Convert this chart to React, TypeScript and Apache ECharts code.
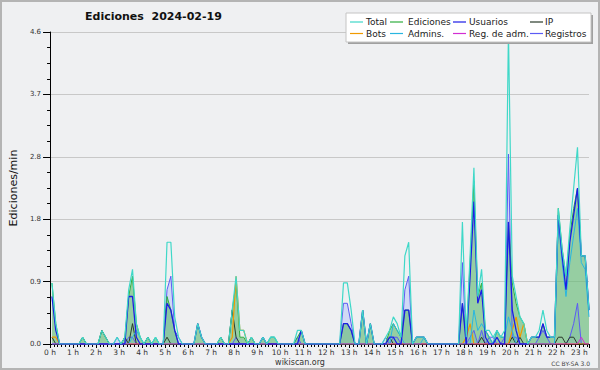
import React, { useEffect, useRef } from "react";
import * as echarts from "echarts";

// 10-minute bins, each point drawn at the middle of its bin (minutes since 00:00)
const START_MIN = 5;
const STEP_MIN = 10;
const HOUR_LABEL = (h: number) => `${h} h`;
const Y_TICKS_MAX = 4.6;
const Y_TICK_STEP = 0.92;

const TOTAL = [
  0.9, 0.3, 0, 0, 0, 0, 0, 0, 0.1, 0, 0, 0,
  0, 0.2, 0.1, 0, 0, 0.1, 0, 0.1, 0.8, 1.1, 0.3, 0.1,
  0, 0.1, 0, 0.1, 0, 0, 1.5, 1.5, 0.4, 0.1, 0, 0,
  0, 0, 0.3, 0.1, 0, 0, 0, 0, 0.1, 0, 0, 0.5,
  1.0, 0.2, 0.2, 0, 0.1, 0, 0, 0.1, 0, 0.1, 0.1, 0,
  0, 0, 0, 0, 0.2, 0.2, 0, 0, 0, 0, 0, 0,
  0, 0, 0, 0, 0.9, 0.9, 0.5, 0, 0, 0.5, 0, 0.3,
  0, 0, 0, 0.1, 0.2, 0.4, 0.3, 0.1, 1.3, 1.5, 0, 0.1,
  0.1, 0.1, 0, 0, 0, 0, 0, 0, 0, 0, 0, 1.8,
  0.1, 1.3, 2.6, 0.7, 1.1, 0.2, 0.2, 0.1, 0.2, 0.1, 0.2, 4.6,
  1.0, 0.7, 0.4, 0.3, 0, 0.1, 0.1, 0.2, 0.5, 0.2, 0.1, 0.1,
  2.0, 1.4, 1.0, 1.7, 2.3, 2.9, 1.3, 1.3, 0.5,
];

const EDICIONES = [
  0.9, 0.3, 0, 0, 0, 0, 0, 0, 0.1, 0, 0, 0,
  0, 0.2, 0.1, 0, 0, 0, 0, 0.1, 0.7, 1.0, 0.3, 0.1,
  0, 0.1, 0, 0.1, 0, 0, 0.7, 0.5, 0.2, 0, 0, 0,
  0, 0, 0.3, 0.1, 0, 0, 0, 0, 0.1, 0, 0, 0.5,
  0.9, 0.1, 0.1, 0, 0.1, 0, 0, 0.1, 0, 0.1, 0.1, 0,
  0, 0, 0, 0, 0.1, 0.2, 0, 0, 0, 0, 0, 0,
  0, 0, 0, 0, 0.3, 0.3, 0.2, 0, 0, 0.5, 0, 0.3,
  0, 0, 0, 0, 0.2, 0.3, 0.2, 0.1, 0.5, 0.5, 0, 0.1,
  0.1, 0.1, 0, 0, 0, 0, 0, 0, 0, 0, 0, 0.6,
  0.1, 1.2, 2.4, 0.7, 0.9, 0.2, 0.1, 0, 0.2, 0.1, 0.1, 1.8,
  0.9, 0.6, 0.4, 0.3, 0, 0.1, 0.1, 0.1, 0.3, 0.1, 0.1, 0.1,
  2.0, 1.4, 1.0, 1.6, 2.0, 2.3, 1.3, 1.3, 0.5,
];

const USUARIOS = [
  0.7, 0.2, 0, 0, 0, 0, 0, 0, 0, 0, 0, 0,
  0, 0, 0, 0, 0, 0, 0, 0, 0.7, 0.7, 0.1, 0,
  0, 0, 0, 0, 0, 0, 0.6, 0.5, 0.2, 0, 0, 0,
  0, 0, 0.3, 0.1, 0, 0, 0, 0, 0, 0, 0, 0,
  0, 0, 0, 0, 0, 0, 0, 0.1, 0, 0, 0, 0,
  0, 0, 0, 0, 0, 0.2, 0, 0, 0, 0, 0, 0,
  0, 0, 0, 0, 0.3, 0.3, 0.2, 0, 0, 0.5, 0, 0.3,
  0, 0, 0, 0, 0.1, 0.1, 0, 0, 0.5, 0.5, 0, 0.1,
  0.1, 0.1, 0, 0, 0, 0, 0, 0, 0, 0, 0, 0.6,
  0, 1.0, 2.1, 0.6, 0.8, 0.1, 0, 0, 0.1, 0, 0, 1.8,
  0.5, 0.2, 0, 0, 0, 0.1, 0.1, 0.1, 0.3, 0.1, 0.1, 0.1,
  1.9, 1.3, 0.8, 1.5, 1.9, 2.3, 1.3, 1.3, 0.5,
];

const IP = [
  0.1, 0, 0, 0, 0, 0, 0, 0, 0.1, 0, 0, 0,
  0, 0.2, 0.1, 0, 0, 0, 0, 0.1, 0, 0.3, 0, 0,
  0, 0.1, 0, 0, 0, 0, 0.1, 0, 0, 0, 0, 0,
  0, 0, 0, 0, 0, 0, 0, 0, 0.1, 0, 0, 0.5,
  0.1, 0, 0, 0, 0.1, 0, 0, 0, 0, 0, 0, 0,
  0, 0, 0, 0, 0, 0, 0, 0, 0, 0, 0, 0,
  0, 0, 0, 0, 0, 0, 0, 0, 0, 0, 0, 0,
  0, 0, 0, 0, 0.1, 0, 0, 0, 0, 0, 0, 0,
  0, 0, 0, 0, 0, 0, 0, 0, 0, 0, 0, 0,
  0, 0, 0, 0, 0.1, 0, 0, 0, 0, 0, 0, 0,
  0.1, 0, 0.1, 0, 0, 0, 0, 0, 0, 0, 0, 0,
  0.1, 0.1, 0, 0.1, 0.1, 0, 0, 0, 0,
];

const BOTS = [
  0.1, 0.1, 0, 0, 0, 0, 0, 0, 0, 0, 0, 0,
  0, 0, 0, 0, 0, 0, 0, 0, 0, 0, 0, 0,
  0, 0, 0, 0, 0, 0, 0, 0, 0, 0, 0, 0,
  0, 0, 0, 0, 0, 0, 0, 0, 0, 0, 0, 0.1,
  1.0, 0.2, 0.2, 0, 0, 0, 0, 0, 0, 0, 0, 0,
  0, 0, 0, 0, 0, 0, 0, 0, 0, 0, 0, 0,
  0, 0, 0, 0, 0, 0, 0, 0, 0, 0, 0, 0,
  0, 0, 0, 0, 0, 0, 0, 0, 0, 0, 0, 0,
  0, 0, 0, 0, 0, 0, 0, 0, 0, 0, 0, 0,
  0.1, 0.3, 0, 0, 0, 0, 0, 0, 0, 0, 0, 0,
  0.2, 0.4, 0.1, 0.3, 0, 0, 0, 0, 0, 0, 0, 0,
  0, 0, 0, 0, 0, 0, 0, 0, 0,
];

const ADMINS = [
  0, 0, 0, 0, 0, 0, 0, 0, 0, 0, 0, 0,
  0, 0, 0, 0, 0, 0, 0, 0, 0, 0.1, 0.2, 0.1,
  0, 0, 0, 0.1, 0, 0, 0, 0, 0, 0, 0, 0,
  0, 0, 0, 0, 0, 0, 0, 0, 0, 0, 0, 0,
  0, 0, 0, 0, 0, 0, 0, 0, 0, 0.1, 0.1, 0,
  0, 0, 0, 0, 0, 0, 0, 0, 0, 0, 0, 0,
  0, 0, 0, 0, 0, 0, 0, 0, 0, 0, 0, 0,
  0, 0, 0, 0, 0, 0.3, 0.2, 0.1, 0, 0, 0, 0,
  0, 0.1, 0, 0, 0, 0, 0, 0, 0, 0, 0, 0,
  0, 0, 0.5, 0.2, 0.3, 0.2, 0.1, 0, 0.2, 0.1, 0.1, 0.4,
  0.2, 0, 0, 0, 0, 0, 0, 0, 0, 0, 0, 0,
  1.8, 1.2, 0.7, 1.2, 1.6, 2.0, 1.2, 1.1, 0.4,
];

const REG_ADM = [
  0, 0, 0, 0, 0, 0, 0, 0, 0, 0, 0, 0,
  0, 0, 0, 0, 0, 0, 0, 0, 0, 0, 0, 0,
  0, 0, 0, 0, 0, 0, 0, 0, 0, 0, 0, 0,
  0, 0, 0, 0, 0, 0, 0, 0, 0, 0, 0, 0,
  0, 0, 0, 0, 0, 0, 0, 0, 0, 0, 0, 0,
  0, 0, 0, 0, 0, 0, 0, 0, 0, 0, 0, 0,
  0, 0, 0, 0, 0, 0, 0, 0, 0, 0, 0, 0,
  0, 0, 0, 0, 0, 0, 0, 0, 0, 0, 0, 0,
  0, 0, 0, 0, 0, 0, 0, 0, 0, 0, 0, 0,
  0, 0, 0, 0, 0, 0, 0, 0, 0, 0, 0, 0,
  0, 0, 0, 0, 0, 0, 0, 0, 0, 0, 0, 0,
  0, 0, 0, 0, 0, 0, 0.1, 0, 0,
];

const REGISTROS = [
  0, 0, 0, 0, 0, 0, 0, 0, 0, 0, 0, 0,
  0, 0, 0, 0, 0, 0.1, 0, 0, 0.1, 0.1, 0, 0,
  0, 0, 0, 0, 0, 0, 0.8, 1.0, 0.2, 0.1, 0, 0,
  0, 0, 0, 0, 0, 0, 0, 0, 0, 0, 0, 0,
  0.1, 0, 0, 0, 0, 0, 0, 0, 0, 0, 0, 0,
  0, 0, 0, 0, 0.1, 0, 0, 0, 0, 0, 0, 0,
  0, 0, 0, 0, 0.6, 0.6, 0.3, 0, 0, 0, 0, 0,
  0, 0, 0, 0.1, 0, 0.1, 0.1, 0, 0.8, 1.0, 0, 0,
  0, 0, 0, 0, 0, 0, 0, 0, 0, 0, 0, 1.2,
  0, 0.1, 0.2, 0, 0.2, 0, 0.1, 0.1, 0, 0, 0.1, 2.8,
  0.1, 0.1, 0, 0, 0, 0, 0, 0.1, 0.2, 0.1, 0, 0,
  0, 0, 0, 0.1, 0.3, 0.6, 0, 0, 0,
];

const LEGEND_ROWS = [
  ["Total", "Ediciones", "Usuarios", "IP"],
  ["Bots", "Admins.", "Reg. de adm.", "Registros"],
];

const COLORS: Record<string, string> = {
  Total: "#3fd8c8",
  Ediciones: "#2fae3f",
  Usuarios: "#1c1ce6",
  IP: "#2b3b2b",
  Bots: "#f09a00",
  "Admins.": "#29b6e0",
  "Reg. de adm.": "#d22ed2",
  Registros: "#5b5bf5",
};

const FONT = "DejaVu Sans";

function pts(arr: number[]) {
  return arr.map((v, i) => [START_MIN + STEP_MIN * i, v]);
}

function lineSeries(name: string, data: number[], width: number, extra: any = {}) {
  return {
    name,
    type: "line",
    data: pts(data),
    symbol: "none",
    smooth: false,
    lineStyle: { color: COLORS[name], width },
    itemStyle: { color: COLORS[name] },
    ...extra,
  };
}

export default function App() {
  const ref = useRef<HTMLDivElement>(null);

  useEffect(() => {
    if (!ref.current) return;
    const chart = echarts.init(ref.current, null, { renderer: "svg" });

    const colIcon = [350, 390, 453, 530];
    const colText = [366, 408, 469, 545];
    const rowY = [22, 33.5];
    const legendEls: any[] = [
      { type: "rect", z: 100, shape: { x: 348, y: 15, width: 245, height: 29 }, style: { fill: "#a0a0a0" } },
      { type: "rect", z: 101, shape: { x: 346, y: 13, width: 245, height: 29 }, style: { fill: "#ffffff", stroke: "#c4c4c4", lineWidth: 1 } },
    ];
    LEGEND_ROWS.forEach((row, r) => {
      row.forEach((name, c) => {
        legendEls.push({
          type: "line",
          z: 102,
          shape: { x1: colIcon[c], y1: rowY[r], x2: colIcon[c] + 13, y2: rowY[r] },
          style: { stroke: COLORS[name], lineWidth: 1.2 },
        });
        legendEls.push({
          type: "text",
          z: 102,
          x: colText[c],
          y: rowY[r],
          style: { text: name, fill: "#222", font: `9px "${FONT}"`, verticalAlign: "middle", align: "left" },
        });
      });
    });

    const option: any = {
      animation: false,
      backgroundColor: "#eff0f2",
      textStyle: { fontFamily: FONT },
      title: {
        text: "Ediciones  2024-02-19",
        left: 85,
        top: 11,
        padding: 0,
        textStyle: { fontSize: 11, fontWeight: "bold", color: "#111", fontFamily: FONT },
      },
      grid: { left: 45, right: 11, top: 32, bottom: 26, containLabel: false },
      xAxis: {
        type: "value",
        min: 0,
        max: 1405,
        interval: 60,
        axisLine: { show: true, lineStyle: { color: "#000", width: 1 } },
        axisTick: { show: true, length: 4, lineStyle: { color: "#000" } },
        minorTick: { show: true, splitNumber: 6, length: 3, lineStyle: { color: "#000" } },
        splitLine: { show: false },
        axisLabel: {
          fontSize: 7.5,
          color: "#333",
          margin: 4,
          showMaxLabel: false,
          formatter: (v: number) => (v % 60 === 0 ? HOUR_LABEL(v / 60) : ""),
        },
      },
      yAxis: {
        type: "value",
        min: 0,
        max: Y_TICKS_MAX,
        interval: Y_TICK_STEP,
        name: "Ediciones/min",
        nameLocation: "middle",
        nameRotate: 90,
        nameGap: 29,
        nameTextStyle: { fontSize: 11, color: "#111", fontFamily: FONT },
        axisLine: { show: true, lineStyle: { color: "#000", width: 1 } },
        axisTick: { show: true, length: 7, lineStyle: { color: "#000" } },
        minorTick: { show: true, splitNumber: 4, length: 3, lineStyle: { color: "#000" } },
        splitLine: { show: true, lineStyle: { color: "#c8c8c8", width: 1 } },
        axisLabel: {
          fontSize: 7,
          color: "#333",
          margin: 9,
          formatter: (v: number) => v.toFixed(1),
        },
      },
      series: [
        lineSeries("Registros", REGISTROS, 1, { areaStyle: { color: "#c5d2f5", opacity: 0.75 } }),
        lineSeries("Ediciones", EDICIONES, 1, { areaStyle: { color: "#66bb77", opacity: 0.65 } }),
        lineSeries("IP", IP, 1),
        lineSeries("Bots", BOTS, 1.2),
        lineSeries("Admins.", ADMINS, 1),
        lineSeries("Reg. de adm.", REG_ADM, 1),
        lineSeries("Usuarios", USUARIOS, 1.3),
        lineSeries("Total", TOTAL, 1.2),
      ],
      graphic: [
        { type: "rect", z: 99, shape: { x: 1, y: 1, width: 598, height: 368 }, style: { fill: "none", stroke: "#b4b4b4", lineWidth: 2 } },
        ...legendEls,
        {
          type: "text",
          z: 100,
          x: 300,
          y: 362,
          style: { text: "wikiscan.org", fill: "#333", font: `8px "${FONT}"`, align: "center", verticalAlign: "middle" },
        },
        {
          type: "text",
          z: 100,
          x: 590,
          y: 363,
          style: { text: "CC BY-SA 3.0", fill: "#444", font: `6px "${FONT}"`, align: "right", verticalAlign: "middle" },
        },
      ],
    };

    chart.setOption(option);
    return () => chart.dispose();
  }, []);

  return <div ref={ref} style={{ position: "fixed", left: 0, top: 0, width: 600, height: 370 }} />;
}
